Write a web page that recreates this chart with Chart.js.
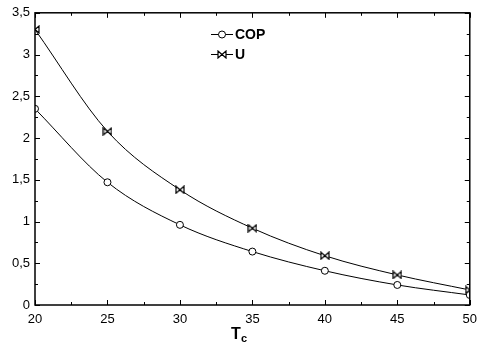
<!DOCTYPE html>
<html>
<head>
<meta charset="utf-8">
<script src="https://cdn.jsdelivr.net/npm/chart.js@4/dist/chart.umd.min.js"></script>
<style>
  html, body { margin: 0; padding: 0; background: #fff; }
  #wrap { width: 484px; height: 344px; position: relative; }
</style>
</head>
<body>
<div id="wrap"><canvas id="chart"></canvas></div>
<script>
const tcValues = [20, 25, 30, 35, 40, 45, 50];
const copValues = [2.35, 1.47, 0.96, 0.64, 0.41, 0.24, 0.12];
const uValues = [3.30, 2.08, 1.38, 0.92, 0.59, 0.36, 0.18];

const FONT = '"Liberation Sans", Arial, sans-serif';

function makeBowtie() {
  const c = document.createElement('canvas');
  c.width = 10;
  c.height = 9;
  const g = c.getContext('2d');
  g.lineWidth = 1.2;
  g.strokeStyle = '#000';
  g.fillStyle = '#fff';
  g.beginPath();
  g.moveTo(1, 1);
  g.lineTo(1, 8);
  g.lineTo(5, 4.5);
  g.closePath();
  g.moveTo(9, 1);
  g.lineTo(9, 8);
  g.lineTo(5, 4.5);
  g.closePath();
  g.fill();
  g.stroke();
  return c;
}
const bowtie = makeBowtie();

const frameTicks = {
  id: 'frameTicks',
  afterDraw(chart) {
    const { ctx, chartArea: a } = chart;
    const xs = chart.scales.x;
    const ys = chart.scales.y;
    ctx.save();
    ctx.strokeStyle = '#000';
    ctx.lineWidth = 1.5;
    ctx.strokeRect(a.left, a.top, a.right - a.left, a.bottom - a.top);
    ctx.lineWidth = 1;
    ctx.beginPath();
    for (let v = 20; v <= 50.001; v += 2.5) {
      const px = Math.round(xs.getPixelForValue(v)) + 0.5;
      const len = (Math.abs(v % 5) < 0.01) ? 5 : 3;
      ctx.moveTo(px, a.bottom); ctx.lineTo(px, a.bottom - len);
      ctx.moveTo(px, a.top); ctx.lineTo(px, a.top + len);
    }
    for (let v = 0; v <= 3.5001; v += 0.25) {
      const py = Math.round(ys.getPixelForValue(v)) + 0.5;
      const len = (Math.abs((v * 2) % 1) < 0.01) ? 5 : 3;
      ctx.moveTo(a.left, py); ctx.lineTo(a.left + len, py);
      ctx.moveTo(a.right, py); ctx.lineTo(a.right - len, py);
    }
    ctx.stroke();

    // axis title T_c
    ctx.fillStyle = '#000';
    ctx.textBaseline = 'alphabetic';
    ctx.textAlign = 'left';
    ctx.font = 'bold 16px ' + FONT;
    ctx.fillText('T', 231, 339);
    ctx.font = 'bold 11px ' + FONT;
    ctx.fillText('c', 241, 342);

    // legend
    const rows = [
      { y: 34, label: 'COP', style: 'circle' },
      { y: 54, label: 'U', style: 'bowtie' },
    ];
    rows.forEach((r) => {
      ctx.lineWidth = 1;
      ctx.beginPath();
      ctx.moveTo(211, r.y + 0.5);
      ctx.lineTo(233, r.y + 0.5);
      ctx.stroke();
      if (r.style === 'circle') {
        ctx.beginPath();
        ctx.arc(222, r.y + 0.5, 3.5, 0, Math.PI * 2);
        ctx.fillStyle = '#fff';
        ctx.fill();
        ctx.stroke();
      } else {
        ctx.drawImage(bowtie, 217, r.y - 4);
      }
      ctx.fillStyle = '#000';
      ctx.font = 'bold 14px ' + FONT;
      ctx.textBaseline = 'middle';
      ctx.fillText(r.label, 235, r.y + 1);
    });
    ctx.restore();
  },
};

new Chart(document.getElementById('chart'), {
  type: 'line',
  data: {
    datasets: [
      {
        label: 'COP',
        data: tcValues.map((x, i) => ({ x, y: copValues[i] })),
        borderColor: '#000',
        backgroundColor: '#fff',
        borderWidth: 1,
        pointStyle: 'circle',
        pointRadius: 3.5,
        pointBorderWidth: 1,
        cubicInterpolationMode: 'monotone',
      },
      {
        label: 'U',
        data: tcValues.map((x, i) => ({ x, y: uValues[i] })),
        borderColor: '#000',
        backgroundColor: '#fff',
        borderWidth: 1,
        pointStyle: bowtie,
        pointRadius: 4,
        cubicInterpolationMode: 'monotone',
      },
    ],
  },
  options: {
    responsive: true,
    maintainAspectRatio: false,
    animation: false,
    layout: { padding: { top: 12, right: 7, left: 0, bottom: 0 } },
    plugins: {
      legend: { display: false },
      tooltip: { enabled: false },
    },
    scales: {
      x: {
        type: 'linear',
        min: 20,
        max: 50,
        grid: { display: false, drawTicks: false },
        border: { display: false },
        afterFit(scale) { scale.height = 39; },
        ticks: {
          stepSize: 5,
          padding: 7,
          color: '#000',
          font: { family: FONT, size: 13 },
          maxRotation: 0,
        },
      },
      y: {
        min: 0,
        max: 3.5,
        grid: { display: false, drawTicks: false },
        border: { display: false },
        afterFit(scale) { scale.width = 35; },
        ticks: {
          stepSize: 0.5,
          padding: 5,
          color: '#000',
          font: { family: FONT, size: 13 },
          callback: (v) => String(v).replace('.', ','),
        },
      },
    },
  },
  plugins: [frameTicks],
});
</script>
</body>
</html>
